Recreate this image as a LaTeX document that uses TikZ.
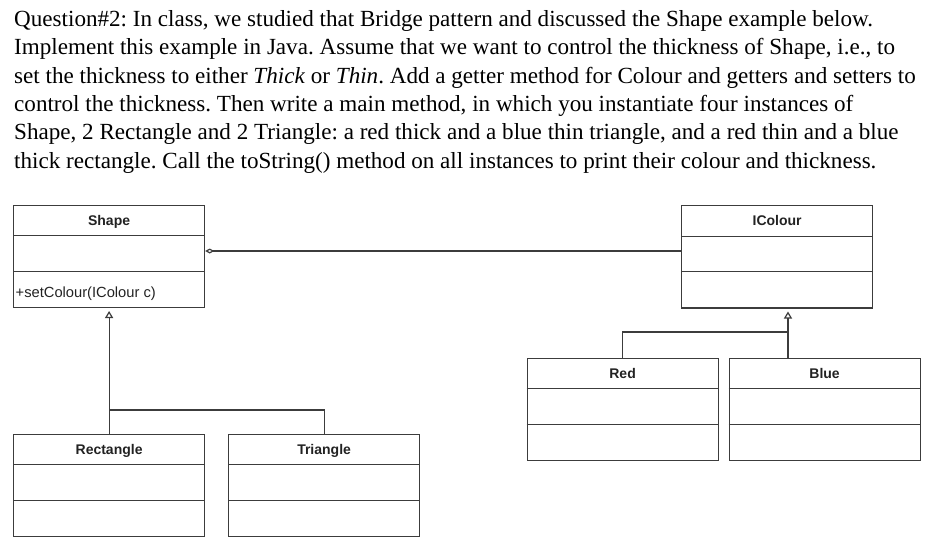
\documentclass[tikz,border=0pt]{standalone}
\usepackage{fontspec}
\setmainfont{Liberation Serif}
\newfontfamily\umlfont{Liberation Sans}
\usetikzlibrary{arrows.meta,calc}
\definecolor{umlline}{HTML}{3C3C3C}
\definecolor{umltext}{HTML}{222222}
\frenchspacing
\newcommand\umldiv[1]{%
  \draw[conn] ([yshift=-31.3pt]#1.north west) -- ([yshift=-31.3pt]#1.north east);
  \draw[conn] ([yshift=-66.8pt]#1.north west) -- ([yshift=-66.8pt]#1.north east);}
\begin{document}
\begin{tikzpicture}[x=1pt,y=1pt,
  qline/.style={anchor=base west, inner sep=0pt, font=\fontsize{23.1}{28}\selectfont},
  classbox/.style={draw=umlline, line width=1.2pt, minimum width=191pt, minimum height=102.3pt, inner sep=0pt, anchor=north west},
  ctitle/.style={font=\umlfont\bfseries\fontsize{14}{16}\selectfont, text=umltext, inner sep=0pt, anchor=base},
  cmeth/.style={font=\umlfont\fontsize{14.7}{16}\selectfont, text=umltext, inner sep=0pt, anchor=base west},
  conn/.style={draw=umlline, line width=1.2pt},
  gen/.style={conn, -{Triangle[open, length=7pt, width=8pt]}, shorten >=3pt},
  agg/.style={conn, -{Diamond[open, length=9pt, width=5pt]}}]
\useasboundingbox (0,0) rectangle (940,-555);

% question text
\node[qline] (q1) at (14,-26.7) {Question\#2: In class, we studied that Bridge pattern and discussed the Shape example below.};
\node[qline] (q2) at (14,-54.96) {Implement this example in Java. Assume that we want to control the thickness of Shape, i.e., to};
\node[qline] (q3) at (14,-83.22) {set the thickness to either \textit{Thick} or \textit{Thin}. Add a getter method for Colour and getters and setters to};
\node[qline] (q4) at (14,-111.48) {control the thickness. Then write a main method, in which you instantiate four instances of};
\node[qline] (q5) at (14,-139.74) {Shape, 2 Rectangle and 2 Triangle: a red thick and a blue thin triangle, and a red thin and a blue};
\node[qline] (q6) at (14,-168) {thick rectangle. Call the toString() method on all instances to print their colour and thickness.};

% classes
\node[classbox] (shape) at (13,-204.5) {};
\node[classbox] (icol) at (681,-205) {};
\node[classbox] (rect) at (13,-433.5) {};
\node[classbox] (tri) at (228,-433.5) {};
\node[classbox] (red) at (526.5,-357.5) {};
\node[classbox] (blue) at (728.5,-357.5) {};

\umldiv{shape}
\umldiv{icol}
\umldiv{rect}
\umldiv{tri}
\umldiv{red}
\umldiv{blue}

\node[ctitle] (shapeT) at ([yshift=-20.8pt]shape.north) {Shape};
\node[ctitle] (icolT) at ([yshift=-20.8pt]icol.north) {IColour};
\node[ctitle] (rectT) at ([yshift=-20.8pt]rect.north) {Rectangle};
\node[ctitle] (triT) at ([yshift=-20.8pt]tri.north) {Triangle};
\node[ctitle] (redT) at ([yshift=-20.8pt]red.north) {Red};
\node[ctitle] (blueT) at ([yshift=-20.8pt]blue.north) {Blue};
\node[cmeth] (shapeM) at ([xshift=2.5pt,yshift=-93pt]shape.north west) {+setColour(IColour c)};

% connectors
\coordinate (aggp) at ([yshift=-46.5pt]shape.north east);
\draw[agg] (icol.west |- aggp) -- (aggp);

\coordinate (j1) at (108.5,-410);
\draw[gen] (rect.north) -- (shape.south);
\draw[conn] (tri.north) |- (j1);

\coordinate (j2) at (788,-332);
\draw[gen] (blue.north -| j2) -- (icol.south -| j2);
\draw[conn] (red.north) |- (j2);
\end{tikzpicture}
\end{document}
